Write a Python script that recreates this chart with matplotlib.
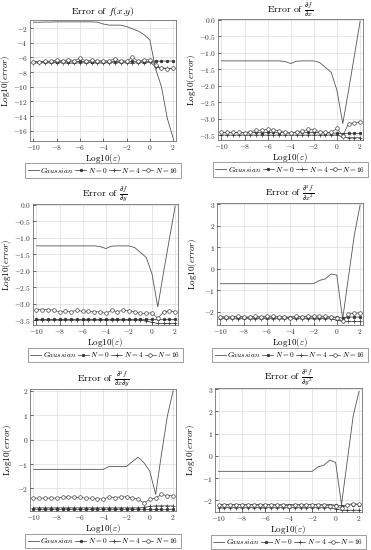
import numpy as np
import matplotlib
matplotlib.use("Agg")
import matplotlib.pyplot as plt

plt.rcParams['font.family'] = 'serif'
plt.rcParams['font.serif'] = ['cmr10', 'DejaVu Serif']
plt.rcParams['mathtext.fontset'] = 'cm'
plt.rcParams['axes.formatter.use_mathtext'] = True
plt.rcParams['axes.unicode_minus'] = True

x = [-10, -9.5, -9, -8.5, -8, -7.5, -7, -6.5, -6, -5.5, -5, -4.5, -4,
     -3.5, -3, -2.5, -2, -1.5, -1, -0.5, 0, 0.5, 1, 1.5, 2]

# f(x,y)
gauss_f = [-1.2, -1.2, -1.18, -1.18, -1.15, -1.15, -1.15, -1.15, -1.15, -1.15, -1.15, -1.2, -1.45,
           -1.6, -1.6, -1.6, -1.8, -2.1, -2.4, -2.9, -3.6, -7.6, -10.0, -14.3, -17.0]
n0_f = [-6.6, -6.6, -6.6, -6.6, -6.6, -6.55, -6.6, -6.6, -6.55, -6.6, -6.6, -6.6, -6.6,
        -6.6, -6.55, -6.6, -6.6, -6.55, -6.6, -6.6, -6.5, -6.5, -6.5, -6.5, -6.5]
n4_f = [-6.75, -6.75, -6.7, -6.75, -6.7, -6.7, -6.75, -6.8, -6.7, -6.75, -6.7, -6.75, -6.75,
        -6.7, -6.75, -6.7, -6.7, -6.8, -6.7, -6.75, -6.6, -7.3, -7.4, -7.5, -7.5]
n16_f = [-6.6, -6.6, -6.55, -6.5, -6.35, -6.5, -6.3, -6.45, -6.1, -6.5, -6.4, -6.45, -6.5,
         -6.45, -6.2, -6.45, -6.5, -6.0, -6.5, -6.35, -6.3, -7.0, -7.5, -7.55, -7.5]

# df/dx
gauss_dx = [-1.25, -1.25, -1.25, -1.25, -1.25, -1.25, -1.25, -1.25, -1.25, -1.25, -1.25, -1.27, -1.33,
            -1.26, -1.25, -1.25, -1.25, -1.3, -1.45, -1.6, -2.15, -3.15, -2.15, -1.1, -0.05]
n0_dx = [-3.42, -3.42, -3.42, -3.42, -3.43, -3.42, -3.42, -3.43, -3.42, -3.42, -3.43, -3.42, -3.45,
         -3.42, -3.42, -3.42, -3.42, -3.42, -3.43, -3.44, -3.44, -3.46, -3.45, -3.45, -3.45]
n4_dx = [-3.5, -3.5, -3.5, -3.5, -3.5, -3.5, -3.5, -3.5, -3.5, -3.5, -3.5, -3.5, -3.5,
         -3.5, -3.5, -3.5, -3.5, -3.5, -3.5, -3.5, -3.5, -3.56, -3.58, -3.58, -3.58]
n16_dx = [-3.42, -3.42, -3.42, -3.42, -3.43, -3.4, -3.36, -3.35, -3.33, -3.35, -3.37, -3.42, -3.44,
          -3.4, -3.38, -3.33, -3.34, -3.4, -3.42, -3.42, -3.3, -3.52, -3.15, -3.13, -3.1]

# df/dy
gauss_dy = [-1.25, -1.25, -1.25, -1.25, -1.25, -1.25, -1.25, -1.25, -1.25, -1.25, -1.25, -1.27, -1.33,
            -1.26, -1.25, -1.25, -1.25, -1.3, -1.45, -1.6, -2.1, -3.1, -2.05, -1.05, -0.05]
n0_dy = [-3.47, -3.47, -3.47, -3.47, -3.47, -3.47, -3.47, -3.47, -3.47, -3.47, -3.47, -3.47, -3.47,
         -3.47, -3.47, -3.47, -3.47, -3.47, -3.47, -3.47, -3.47, -3.47, -3.47, -3.47, -3.47]
n4_dy = [-3.5, -3.5, -3.5, -3.5, -3.5, -3.5, -3.5, -3.5, -3.5, -3.5, -3.5, -3.5, -3.5,
         -3.5, -3.5, -3.5, -3.5, -3.5, -3.5, -3.52, -3.57, -3.6, -3.6, -3.6, -3.6]
n16_dy = [-3.18, -3.18, -3.18, -3.2, -3.25, -3.23, -3.25, -3.2, -3.24, -3.24, -3.25, -3.25, -3.3,
          -3.2, -3.25, -3.2, -3.22, -3.25, -3.3, -3.3, -3.28, -3.45, -3.25, -3.22, -3.25]

# d2f/dx2
gauss_dxx = [-0.7, -0.7, -0.7, -0.7, -0.7, -0.7, -0.7, -0.7, -0.7, -0.7, -0.7, -0.7, -0.7,
             -0.7, -0.7, -0.7, -0.7, -0.55, -0.48, -0.25, -0.3, -2.35, -0.4, 1.55, 2.95]
n0_dxx = [-2.25, -2.25, -2.25, -2.25, -2.25, -2.25, -2.25, -2.25, -2.25, -2.25, -2.25, -2.25, -2.25,
          -2.25, -2.25, -2.25, -2.25, -2.25, -2.25, -2.25, -2.25, -2.3, -2.25, -2.25, -2.25]
n4_dxx = [-2.32, -2.32, -2.32, -2.32, -2.32, -2.32, -2.32, -2.32, -2.32, -2.32, -2.32, -2.32, -2.32,
          -2.32, -2.32, -2.32, -2.32, -2.32, -2.32, -2.33, -2.4, -2.45, -2.45, -2.45, -2.45]
n16_dxx = [-2.25, -2.25, -2.25, -2.22, -2.25, -2.27, -2.22, -2.25, -2.2, -2.22, -2.25, -2.25, -2.28,
           -2.2, -2.25, -2.2, -2.22, -2.2, -2.22, -2.25, -2.3, -2.45, -2.1, -2.08, -2.05]

# d2f/dxdy
gauss_dxy = [-1.22, -1.22, -1.22, -1.22, -1.22, -1.22, -1.22, -1.22, -1.22, -1.22, -1.22, -1.22, -1.22,
             -1.1, -1.1, -1.1, -1.1, -0.9, -0.72, -0.95, -1.3, -2.25, -0.6, 0.95, 2.0]
n0_dxy = [-2.86, -2.86, -2.86, -2.86, -2.86, -2.86, -2.86, -2.86, -2.86, -2.86, -2.86, -2.86, -2.86,
          -2.86, -2.86, -2.86, -2.86, -2.86, -2.86, -2.86, -2.86, -2.86, -2.86, -2.86, -2.86]
n4_dxy = [-2.8, -2.8, -2.8, -2.8, -2.8, -2.8, -2.8, -2.8, -2.8, -2.8, -2.8, -2.8, -2.8,
          -2.8, -2.8, -2.8, -2.8, -2.8, -2.8, -2.78, -2.74, -2.72, -2.72, -2.72, -2.72]
n16_dxy = [-2.4, -2.4, -2.4, -2.4, -2.4, -2.37, -2.35, -2.37, -2.37, -2.4, -2.4, -2.42, -2.45,
           -2.35, -2.38, -2.35, -2.35, -2.38, -2.45, -2.6, -2.45, -2.4, -2.25, -2.3, -2.3]

# d2f/dy2
gauss_dyy = [-0.7, -0.7, -0.7, -0.7, -0.7, -0.7, -0.7, -0.7, -0.7, -0.7, -0.7, -0.7, -0.7,
             -0.7, -0.7, -0.7, -0.7, -0.5, -0.42, -0.2, -0.3, -2.2, -0.2, 1.8, 2.9]
n0_dyy = [-2.2, -2.2, -2.2, -2.2, -2.2, -2.2, -2.2, -2.2, -2.2, -2.2, -2.2, -2.2, -2.2,
          -2.2, -2.2, -2.2, -2.2, -2.2, -2.2, -2.2, -2.22, -2.25, -2.22, -2.2, -2.2]
n4_dyy = [-2.33, -2.33, -2.33, -2.33, -2.33, -2.33, -2.33, -2.33, -2.33, -2.33, -2.33, -2.33, -2.33,
          -2.33, -2.33, -2.33, -2.33, -2.33, -2.33, -2.33, -2.38, -2.45, -2.45, -2.45, -2.45]
n16_dyy = [-2.2, -2.2, -2.22, -2.2, -2.2, -2.22, -2.2, -2.22, -2.2, -2.22, -2.22, -2.22, -2.25,
           -2.2, -2.22, -2.2, -2.2, -2.22, -2.22, -2.25, -2.25, -2.35, -2.2, -2.15, -2.18]

titles = [r'Error of $f(x{,}y)$',
          r'Error of $\frac{\partial f}{\partial x}$',
          r'Error of $\frac{\partial f}{\partial y}$',
          r'Error of $\frac{\partial^2 f}{\partial x^2}$',
          r'Error of $\frac{\partial^2 f}{\partial x \partial y}$',
          r'Error of $\frac{\partial^2 f}{\partial y^2}$']

series = [(gauss_f, n0_f, n4_f, n16_f),
          (gauss_dx, n0_dx, n4_dx, n16_dx),
          (gauss_dy, n0_dy, n4_dy, n16_dy),
          (gauss_dxx, n0_dxx, n4_dxx, n16_dxx),
          (gauss_dxy, n0_dxy, n4_dxy, n16_dxy),
          (gauss_dyy, n0_dyy, n4_dyy, n16_dyy)]

ylims = [(-17.4, -0.9), (-3.65, 0.02), (-3.65, 0.02), (-2.62, 3.05), (-2.93, 2.08), (-2.53, 3.05)]
yticks = [[-16, -14, -12, -10, -8, -6, -4, -2],
          [-3.5, -3, -2.5, -2, -1.5, -1, -0.5, 0],
          [-3.5, -3, -2.5, -2, -1.5, -1, -0.5, 0],
          [-2, -1, 0, 1, 2, 3],
          [-2, -1, 0, 1, 2],
          [-2, -1, 0, 1, 2, 3]]
ylabel_x = [-0.12, -0.14, -0.14, -0.12, -0.11, -0.12]

# axes boxes in pixels: left, right, top, bottom
boxes = [(30, 176, 20, 141), (218, 363, 19, 140),
         (33, 178, 204, 325), (217, 363, 203, 325),
         (30, 176, 389, 511), (215, 362, 388, 512)]

W, H = 371, 550
fig = plt.figure(figsize=(W / 100, H / 100), dpi=100)

for i in range(6):
    l, r, t, b = boxes[i]
    hgt = b - t
    ax = fig.add_axes([l / W, 1 - b / H, (r - l) / W, hgt / H])
    g, n0, n4, n16 = series[i]
    ax.plot(x, g, color='#555555', lw=0.6, label=r'$Gaussian$')
    ax.plot(x, n0, color='#333333', lw=0.5, marker='o', ms=2.0, mfc='#333333', mew=0.4, label=r'$N=0$')
    ax.plot(x, n4, color='#333333', lw=0.5, marker='+', ms=3.0, mew=0.5, label=r'$N=4$')
    ax.plot(x, n16, color='#444444', lw=0.5, marker='o', ms=2.6, mfc='white', mew=0.5, label=r'$N=16$')
    ax.set_xlim(-10.3, 2.25)
    ax.set_ylim(*ylims[i])
    ax.set_xticks([-10, -8, -6, -4, -2, 0, 2])
    ax.set_yticks(yticks[i])
    ax.grid(True, color='#dddddd', lw=0.5)
    ax.tick_params(direction='in', length=2, width=0.5, labelsize=5.4, pad=1.5, colors='#333333')
    for s in ax.spines.values():
        s.set_linewidth(0.5)
        s.set_color('#555555')
    ax.set_title(titles[i], fontsize=7, pad=4)
    ax.set_xlabel(r'Log10($\varepsilon$)', fontsize=6.5)
    ax.set_ylabel(r'Log10($error$)', fontsize=6.5)
    ax.xaxis.set_label_coords(0.5, -11 / hgt)
    ax.yaxis.set_label_coords(ylabel_x[i], 0.5)
    leg = ax.legend(loc='upper center', bbox_to_anchor=(0.5, -22.5 / hgt), ncol=4, fontsize=5.3,
                    frameon=True, fancybox=False, edgecolor='#555555', handlelength=1.5,
                    columnspacing=0.2, handletextpad=0.2, borderpad=0.35, borderaxespad=0)
    leg.get_frame().set_linewidth(0.5)

fig.savefig('out.png', dpi=100)
